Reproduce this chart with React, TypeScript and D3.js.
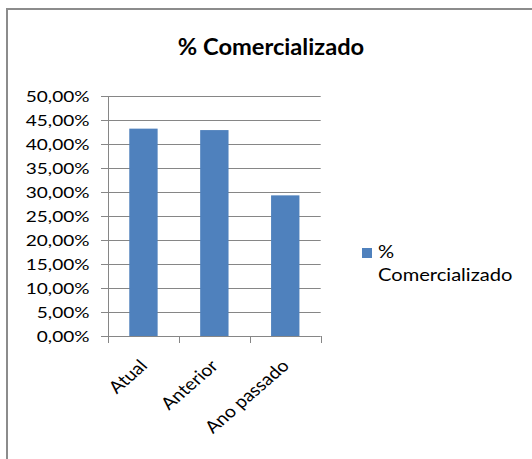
import React from "react";
import * as d3 from "d3";

const categories = ["Atual", "Anterior", "Ano passado"];
const values = [0.432, 0.429, 0.293];
const yTicks = [0, 0.05, 0.1, 0.15, 0.2, 0.25, 0.3, 0.35, 0.4, 0.45, 0.5];
const title = "% Comercializado";
const seriesName = ["%", "Comercializado"];

const W = 532;
const H = 459;
const FONT = "Lato, sans-serif";
const BAR = "#4F81BD";
const GRID = "#868686";

export default function App() {
  const left = 108;
  const right = 320.7;
  const top = 96;
  const bottom = 336;
  const y = d3.scaleLinear().domain([0, 0.5]).range([bottom, top]);
  const x = d3.scaleBand<string>().domain(categories).range([left, right]).padding(0);
  const bw = x.bandwidth() / 2.5;
  const fmt = (v: number) => (v * 100).toFixed(2).replace(".", ",") + "%";
  const bounds = categories.map((c) => x(c) as number).concat([right]);

  return (
    <svg width={W} height={H} style={{ position: "absolute", left: 0, top: 0, background: "#fff" }}>
      <rect x={7} y={9} width={W + 20} height={H + 20} fill="#fff" stroke="#8c8c8c" strokeWidth={2} />
      <text
        transform="translate(271,55) scale(1.03,1)"
        textAnchor="middle"
        fontFamily={FONT}
        fontWeight="bold"
        fontSize={23}
        fill="#000"
      >
        {title}
      </text>
      {yTicks.map((t) => (
        <line key={"g" + t} x1={101} x2={right} y1={Math.round(y(t)) + 0.5} y2={Math.round(y(t)) + 0.5} stroke={GRID} strokeWidth={1} />
      ))}
      <line x1={left + 0.5} x2={left + 0.5} y1={top} y2={bottom} stroke={GRID} />
      {bounds.map((b, i) => (
        <line key={"xt" + i} x1={Math.round(b) + 0.5} x2={Math.round(b) + 0.5} y1={bottom} y2={bottom + 7} stroke={GRID} />
      ))}
      {categories.map((c, i) => (
        <rect
          key={c}
          x={(x(c) as number) + (x.bandwidth() - bw) / 2}
          y={y(values[i])}
          width={bw}
          height={bottom - y(values[i])}
          fill={BAR}
        />
      ))}
      {yTicks.map((t) => (
        <text
          key={"yl" + t}
          transform={`translate(89.5,${y(t)}) scale(1.19,1)`}
          textAnchor="end"
          dominantBaseline="central"
          fontFamily={FONT}
          fontSize={16}
          fill="#000"
        >
          {fmt(t)}
        </text>
      ))}
      {categories.map((c) => (
        <text
          key={"xl" + c}
          transform={`translate(${(x(c) as number) + x.bandwidth() / 2 + 5},367) scale(1.15,1) rotate(-45)`}
          textAnchor="end"
          fontFamily={FONT}
          fontSize={17}
          fill="#000"
        >
          {c}
        </text>
      ))}
      <rect x={362} y={248} width={10} height={10} fill={BAR} />
      <text transform="translate(378,258) scale(1.15,1)" fontFamily={FONT} fontSize={17.5} fill="#000">
        {seriesName[0]}
      </text>
      <text transform="translate(378,280.5) scale(1.15,1)" fontFamily={FONT} fontSize={17.5} fill="#000">
        {seriesName[1]}
      </text>
    </svg>
  );
}
